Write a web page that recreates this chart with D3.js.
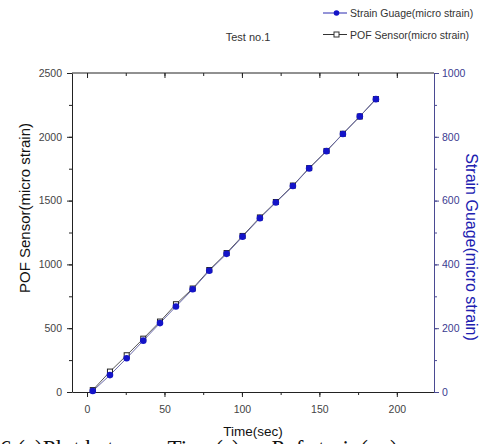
<!DOCTYPE html>
<html><head><meta charset="utf-8">
<script src="https://cdn.jsdelivr.net/npm/d3@7"></script>
<style>body{margin:0;background:#fff}svg{display:block}</style>
</head><body>
<svg id="c" width="482" height="444"></svg>
<script>
const timeSec = [3.7, 14.8, 25.6, 36.3, 47.1, 57.4, 68.2, 78.9, 90.1, 100.4, 111.6, 121.9, 132.9, 143.4, 154.6, 165.2, 176.1, 186.5];
const pofStrain = [15, 160, 288, 418, 552, 688, 811, 956, 1089, 1223, 1368, 1489, 1618, 1755, 1889, 2024, 2159, 2296];
const gaugeStrain = [3, 53, 106, 161, 216, 268, 322, 380, 433, 487, 545, 594, 646, 701, 755, 809, 864, 918];
const xTicks = [0, 50, 100, 150, 200];
const yLeftTicks = [0, 500, 1000, 1500, 2000, 2500];
const yRightTicks = [0, 200, 400, 600, 800, 1000];

const svg = d3.select("#c");
const L = 72, R = 434, T = 73, B = 392;
const x = d3.scaleLinear().domain([-9.7, 224]).range([L, R]);
const yL = d3.scaleLinear().domain([0, 2500]).range([B, T]);
const yR = d3.scaleLinear().domain([0, 1000]).range([B, T]);
const font = "Liberation Sans, Arial, sans-serif";
const purple = "#4a4a92";

function styleAxis(g, color) {
  g.selectAll("path,line").attr("stroke", color);
  g.selectAll("text").attr("font-family", font).attr("font-size", 10.5);
}

const xMinor = d3.range(0, 225, 25);
const yLMinor = d3.range(0, 2501, 250);
const yRMinor = d3.range(0, 1001, 100);

// bottom axis
const gb = svg.append("g").attr("transform", `translate(0,${B})`);
gb.call(d3.axisBottom(x).tickValues(xMinor).tickSize(3).tickFormat(""));
gb.select(".domain").remove();
gb.append("g").call(d3.axisBottom(x).tickValues(xTicks).tickSize(5).tickSizeOuter(0).tickPadding(9).tickFormat(d3.format("d")));
styleAxis(gb, "#222"); gb.selectAll("text").attr("fill", "#444");

// top axis (inward ticks)
const gt = svg.append("g").attr("transform", `translate(0,${T})`);
gt.call(d3.axisBottom(x).tickValues(xMinor).tickSize(3).tickFormat(""));
gt.select(".domain").remove();
gt.append("g").call(d3.axisBottom(x).tickValues(xTicks).tickSize(5).tickSizeOuter(0).tickFormat(""));
gt.selectAll(".domain").remove();
gt.append("line").attr("x1", L).attr("x2", R).attr("stroke", "#222");
styleAxis(gt, "#222");

// left axis
const gl = svg.append("g").attr("transform", `translate(${L},0)`);
gl.call(d3.axisLeft(yL).tickValues(yLMinor).tickSize(3).tickFormat(""));
gl.select(".domain").remove();
gl.append("g").call(d3.axisLeft(yL).tickValues(yLeftTicks).tickSize(5).tickSizeOuter(0).tickPadding(5).tickFormat(d3.format("d")));
styleAxis(gl, "#222"); gl.selectAll("text").attr("fill", "#444");

// right axis
const gr = svg.append("g").attr("transform", `translate(${R},0)`);
gr.call(d3.axisRight(yR).tickValues(yRMinor).tickSize(3).tickFormat(""));
gr.select(".domain").remove();
gr.append("g").call(d3.axisRight(yR).tickValues(yRightTicks).tickSize(5).tickSizeOuter(0).tickPadding(3).tickFormat(d3.format("d")));
styleAxis(gr, purple); gr.selectAll("text").attr("fill", "#3a3a90");

// lines
const pofData = timeSec.map((t, i) => [t, pofStrain[i]]);
const gData = timeSec.map((t, i) => [t, gaugeStrain[i]]);
svg.append("path").datum(pofData)
  .attr("d", d3.line().x(d => x(d[0])).y(d => yL(d[1])))
  .attr("fill", "none").attr("stroke", "#555").attr("stroke-width", 1);
svg.append("path").datum(gData)
  .attr("d", d3.line().x(d => x(d[0])).y(d => yR(d[1])))
  .attr("fill", "none").attr("stroke", "#6a6aa8").attr("stroke-width", 1);

svg.append("g").selectAll("rect").data(pofData).join("rect")
  .attr("x", d => x(d[0]) - 2.5).attr("y", d => yL(d[1]) - 2.5)
  .attr("width", 5).attr("height", 5)
  .attr("fill", "#fff").attr("stroke", "#222").attr("stroke-width", 1);
svg.append("g").selectAll("circle").data(gData).join("circle")
  .attr("cx", d => x(d[0])).attr("cy", d => yR(d[1])).attr("r", 3.3)
  .attr("fill", "#1414c8");

// axis titles
svg.append("text").attr("transform", "translate(30,208) rotate(-90)")
  .attr("text-anchor", "middle").attr("font-family", font).attr("font-size", 15)
  .attr("fill", "#111").text("POF Sensor(micro strain)");
svg.append("text").attr("transform", "translate(466,247) rotate(90)")
  .attr("text-anchor", "middle").attr("font-family", font).attr("font-size", 16)
  .attr("fill", "#2020b0").text("Strain Guage(micro strain)");
svg.append("text").attr("x", 253).attr("y", 436)
  .attr("text-anchor", "middle").attr("font-family", font).attr("font-size", 13.5)
  .attr("fill", "#111").text("Time(sec)");

// title
svg.append("text").attr("x", 248).attr("y", 41)
  .attr("text-anchor", "middle").attr("font-family", font).attr("font-size", 11)
  .attr("fill", "#333").text("Test no.1");

// legend
const lg = svg.append("g");
lg.append("line").attr("x1", 323).attr("x2", 347).attr("y1", 13).attr("y2", 13).attr("stroke", "#2a2ab0");
lg.append("circle").attr("cx", 336.5).attr("cy", 13).attr("r", 2.8).attr("fill", "#1414c8");
lg.append("text").attr("x", 350).attr("y", 17).attr("font-family", font).attr("font-size", 10.5)
  .attr("fill", "#333").text("Strain Guage(micro strain)");
lg.append("line").attr("x1", 323).attr("x2", 347).attr("y1", 34.5).attr("y2", 34.5).attr("stroke", "#333");
lg.append("rect").attr("x", 334).attr("y", 32).attr("width", 5).attr("height", 5)
  .attr("fill", "#fff").attr("stroke", "#333");
lg.append("text").attr("x", 350).attr("y", 38.5).attr("font-family", font).attr("font-size", 10.5)
  .attr("fill", "#333").text("POF Sensor(micro strain)");

// cut-off caption (only its top shows at the bottom edge)
svg.append("text").attr("x", 0).attr("y", 456)
  .attr("font-family", "Liberation Serif, Times New Roman, serif").attr("font-size", 23)
  .attr("fill", "#111").text("6.(a)Plot between Time(s) vs Pof strain(με)");
</script>
</body></html>
